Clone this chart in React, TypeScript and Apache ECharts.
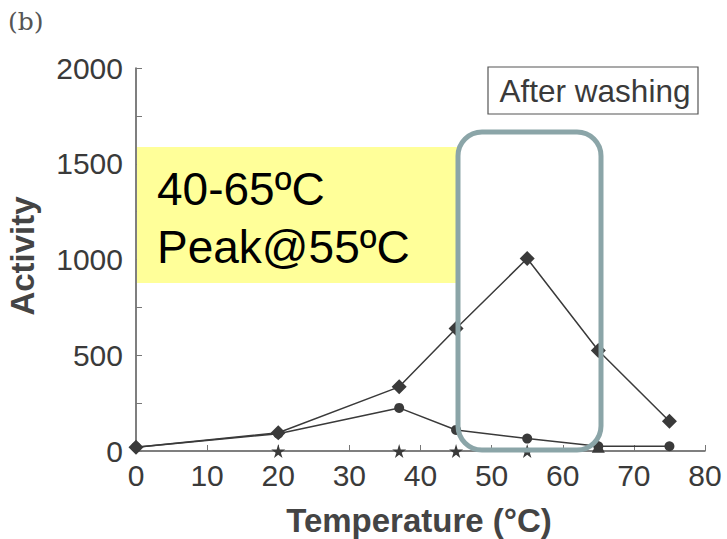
import React, { useEffect, useRef } from "react";
import * as echarts from "echarts";

const temperatures = [0, 20, 37, 45, 55, 65, 75];
const diamondSeries = [20, 95, 335, 640, 1005, 525, 155];
const circleSeries = [20, 90, 225, 110, 65, 25, 25];
const starSeries = [null, 0, 0, 0, 0, null, null];
const triangleSeries = [null, null, null, null, null, 25, null];
const yTicks = [0, 500, 1000, 1500, 2000];
const xTicks = [0, 10, 20, 30, 40, 50, 60, 70, 80];

const STAR =
  "path://M50,0 L61,35 L98,35 L68,57 L79,91 L50,70 L21,91 L32,57 L2,35 L39,35 Z";

export default function App() {
  const ref = useRef<HTMLDivElement>(null);
  useEffect(() => {
    const chart = echarts.init(ref.current!, null, { renderer: "svg" });
    const toPairs = (vals: (number | null)[]) =>
      temperatures.map((t, i) => [t, vals[i]]).filter((p) => p[1] !== null);
    const font = "'Liberation Sans', Arial, sans-serif";
    chart.setOption({
      animation: false,
      backgroundColor: "#ffffff",
      grid: { left: 136, right: 22, top: 68, bottom: 88 },
      xAxis: {
        type: "value",
        min: xTicks[0],
        max: xTicks[xTicks.length - 1],
        interval: 10,
        axisLine: { lineStyle: { color: "#555", width: 1.5 } },
        axisTick: { show: true, inside: true, length: 6, lineStyle: { color: "#777" } },
        splitLine: { show: false },
        axisLabel: { color: "#3a3a3a", fontSize: 30, fontFamily: font, margin: 9 },
      },
      yAxis: {
        type: "value",
        min: yTicks[0],
        max: yTicks[yTicks.length - 1],
        interval: 500,
        axisLine: { show: true, lineStyle: { color: "#555", width: 1.5 } },
        axisTick: { show: true, inside: true, length: 6, lineStyle: { color: "#777" } },
        minorTick: { show: true, splitNumber: 2, length: 6, lineStyle: { color: "#777" } },
        splitLine: { show: false },
        axisLabel: {
          color: "#3a3a3a",
          fontSize: 30,
          fontFamily: font,
          margin: 13,
          formatter: (v: number) => String(v),
        },
      },
      series: [
        {
          type: "line",
          data: toPairs(circleSeries),
          symbol: "circle",
          symbolSize: 10,
          lineStyle: { color: "#3a3a3a", width: 1.5 },
          itemStyle: { color: "#3a3a3a" },
          z: 3,
        },
        {
          type: "line",
          data: toPairs(diamondSeries),
          symbol: "diamond",
          symbolSize: 15,
          lineStyle: { color: "#3a3a3a", width: 1.5 },
          itemStyle: { color: "#3a3a3a" },
          z: 4,
        },
        {
          type: "line",
          data: toPairs(starSeries),
          symbol: STAR,
          symbolSize: 14,
          lineStyle: { width: 0, opacity: 0 },
          itemStyle: { color: "#3a3a3a" },
          z: 4,
        },
        {
          type: "line",
          data: toPairs(triangleSeries),
          symbol: "triangle",
          symbolSize: 13,
          showSymbol: true,
          lineStyle: { width: 0, opacity: 0 },
          itemStyle: { color: "#3a3a3a" },
          z: 4,
        },
      ],
      graphic: [
        {
          type: "text",
          left: 8,
          top: 9,
          style: { text: "(b)", fontSize: 25, fontFamily: "'DejaVu Serif', serif", fill: "#555" },
        },
        {
          type: "text",
          x: 22,
          y: 256,
          rotation: Math.PI / 2,
          style: {
            text: "Activity",
            fontSize: 33,
            fontWeight: "bold",
            fontFamily: font,
            fill: "#444",
            align: "center",
            verticalAlign: "middle",
          },
        },
        {
          type: "text",
          x: 419,
          y: 520,
          style: {
            text: "Temperature (°C)",
            fontSize: 33,
            fontWeight: "bold",
            fontFamily: font,
            fill: "#444",
            align: "center",
            verticalAlign: "middle",
          },
        },
        {
          type: "rect",
          shape: { x: 488, y: 67, width: 210, height: 47 },
          style: { fill: "#fff", stroke: "#555", lineWidth: 1.2 },
          z: 10,
        },
        {
          type: "text",
          x: 595,
          y: 91,
          z: 11,
          style: {
            text: "After washing",
            fontSize: 31.5,
            fontFamily: font,
            fill: "#3a3a3a",
            align: "center",
            verticalAlign: "middle",
          },
        },
        {
          type: "rect",
          shape: { x: 137, y: 147, width: 321, height: 136 },
          style: { fill: "#ffff99" },
          z: 10,
        },
        {
          type: "text",
          x: 157,
          y: 189,
          z: 11,
          style: {
            text: "40-65ºC",
            fontSize: 46,
            fontFamily: font,
            fill: "#000",
            verticalAlign: "middle",
          },
        },
        {
          type: "text",
          x: 157,
          y: 247,
          z: 11,
          style: {
            text: "Peak@55ºC",
            fontSize: 46,
            fontFamily: font,
            fill: "#000",
            verticalAlign: "middle",
          },
        },
        {
          type: "rect",
          shape: { x: 458, y: 132, width: 143, height: 318, r: 24 },
          style: { fill: "none", stroke: "#8ba5a8", lineWidth: 5 },
          z: 12,
        },
      ],
    });
    return () => chart.dispose();
  }, []);
  return (
    <div
      ref={ref}
      style={{ position: "fixed", left: 0, top: 0, width: 727, height: 539 }}
    />
  );
}
